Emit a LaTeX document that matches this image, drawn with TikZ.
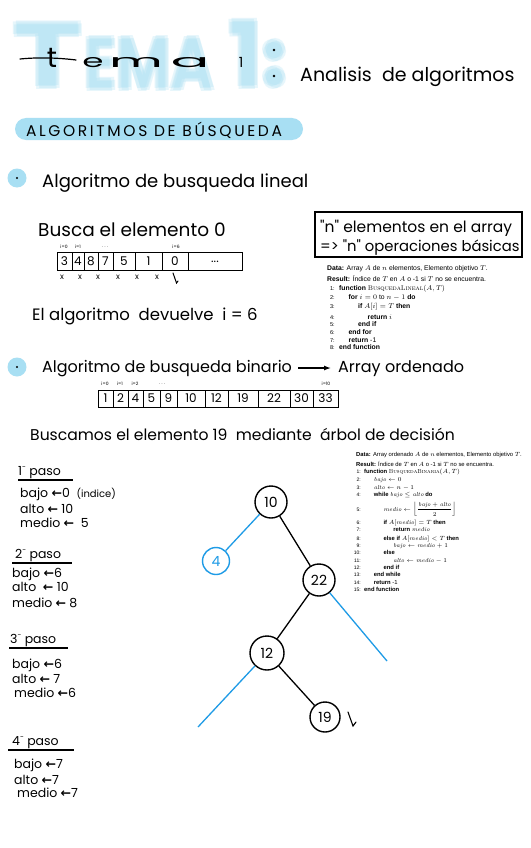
\documentclass[tikz,border=0pt]{standalone}
\usepackage{fontspec}
\usepackage{amsmath}
\usetikzlibrary{arrows.meta}
\newfontfamily\hand{Poppins}
\newfontfamily\handsp{Poppins}[LetterSpace=17]
\newfontfamily\algf{Liberation Sans}
\newfontfamily\dejavu{DejaVu Sans}
\definecolor{hl}{HTML}{A8DFF3}
\definecolor{tb}{HTML}{1E9BE6}
\newcommand{\larr}{{\dejavu\bfseries ←}}
\newcommand{\ord}{\raisebox{0.45em}{\scriptsize -}}
\begin{document}
\begin{tikzpicture}[x=1pt,y=-1pt,
  hw/.style={font=\hand\fontsize{18}{20}\selectfont, inner sep=0, anchor=base west},
  hwm/.style={font=\hand\fontsize{16}{18}\selectfont, inner sep=0, anchor=base west},
  hws/.style={font=\hand\fontsize{12.5}{15}\selectfont, inner sep=0, anchor=base west},
  cellnum/.style={font=\hand\fontsize{12}{14}\selectfont, inner sep=0},
  lbl/.style={font=\hand\fontsize{4.5}{5}\selectfont, inner sep=0},
  mk/.style={font=\hand\fontsize{8}{9}\selectfont, inner sep=0},
  alg/.style={font=\algf\fontsize{6.8}{8}\selectfont, inner sep=0, anchor=base west},
  algn/.style={font=\algf\fontsize{5.6}{7}\selectfont, inner sep=0, anchor=base east},
  algb/.style={font=\algf\fontsize{5.85}{7}\selectfont, inner sep=0, anchor=base west},
  algbn/.style={font=\algf\fontsize{5}{6}\selectfont, inner sep=0, anchor=base east},
  tnode/.style={circle, draw, line width=1.4pt, minimum size=32pt, inner sep=0, font=\hand\fontsize{14}{16}\selectfont},
  edge/.style={line width=1.3pt},
  bedge/.style={line width=1.3pt, draw=tb},
  cellline/.style={line width=1pt},
  blurT/.style={text=hl, opacity=0.27, inner sep=0, anchor=base west},
  blk/.style={font=\hand\fontsize{18}{18}\selectfont, inner sep=0, anchor=base}
]
\useasboundingbox (0,0) rectangle (530,848);
\fill[white] (0,0) rectangle (530,848);

% ---------- Title ----------
\foreach \dx/\dy in {-2/-1,2/1,-1/2,1/-2} {
  \node[blurT, font=\hand\bfseries\fontsize{92}{92}\selectfont, xscale=1.3] (tT) at (12+\dx,88+\dy) {T};
  \node[blurT, font=\hand\bfseries\fontsize{74}{74}\selectfont, xscale=0.8] (tE) at (84+\dx,90+\dy) {EMA};
  \node[blurT, font=\hand\bfseries\fontsize{92}{92}\selectfont] (t1) at (228+\dx,88+\dy) {1};
  \fill[hl, opacity=0.27] (274+\dx,50+\dy) circle (10);
  \fill[hl, opacity=0.27] (274+\dx,77+\dy) circle (10);
}
\draw[line width=1.2pt, line cap=round] (20,59) .. controls (40,57) and (60,58) .. (76,60);
\node[blk, font=\hand\fontsize{28}{28}\selectfont] (bt) at (52,68) {t};
\node[blk, xscale=1.9] (be) at (93,68) {e};
\node[blk, xscale=2.9] (bm) at (136,68) {m};
\node[blk, xscale=3.2] (ba) at (190,68) {a};
\node[blk, font=\hand\fontsize{14}{14}\selectfont] (b1) at (241,68) {1};
\fill (274,50) circle (1.3);
\fill (274,76) circle (1.3);
\node[hw, font=\hand\fontsize{19}{21}\selectfont] (sub) at (300,82) {Analisis \ de algoritmos};

% ---------- Banner ----------
\fill[hl, rounded corners=11] (15,118) rectangle (303,140);
\node[font=\handsp\fontsize{15.5}{17}\selectfont, inner sep=0] (ban) at (154,130) {ALGORITMOS DE BÚSQUEDA};

% ---------- Bullet 1 ----------
\fill[hl] (17,178) circle (9.5);
\fill (17,178) circle (1.1);
\node[hw] (b1t) at (42,187) {Algoritmo de busqueda lineal};
\node[hw, font=\hand\fontsize{18.5}{20}\selectfont] (busca) at (38,236) {Busca el elemento 0};

% array 1
\draw[cellline] (57,252) rectangle (242,270);
\foreach \x in {72,84,98,113,135,162,188} \draw[cellline] (\x,252) -- (\x,270);
\foreach \v/\x in {3/64.5,4/78,8/91,7/105.5,5/124,1/148.5,0/175,{...}/215}
  \node[cellnum] (c\x) at (\x,261.5) {\v};
\node[lbl] (l0) at (64,247) {i=0};
\node[lbl] (l1) at (78,247) {i=1};
\node[lbl] (l2) at (105,247) {. . .};
\node[lbl] (l6) at (176,247) {i=6};
\foreach \x in {62,80,98,118,137,157} \node[mk] (m\x) at (\x,277) {x};
\draw[line width=1pt, line cap=round] (173,273) -- (176.5,283) -- (178,281);
\node[hwm, font=\hand\fontsize{16.5}{18}\selectfont] (dev) at (32,320) {El algoritmo \ devuelve \ i = 6};

% box
\draw[line width=1.5pt] (315,212) rectangle (522,257);
\node[hw, font=\hand\fontsize{15.5}{18}\selectfont] (bx1) at (320,232) {"n" elementos en el array};
\node[hw, font=\hand\fontsize{14.8}{18}\selectfont] (bx2) at (320,251) {=> "n" operaciones básicas};

% algorithm 1
\node[alg] (a1d) at (327,270) {\textbf{Data:} Array $A$ de $n$ elementos, Elemento objetivo $T$.};
\node[alg] (a1r) at (327,281) {\textbf{Result:} Índice de $T$ en $A$ o -1 si $T$ no se encuentra.};
\foreach \n/\y/\ind/\t in {
  1/290/0/{\textbf{function} {\rmfamily\textsc{BusquedaLineal}}$(A,T)$},
  2/299/1/{\textbf{for} $i=0$ to $n-1$ \textbf{do}},
  3/308/2/{\textbf{if} $A[i]=T$ \textbf{then}},
  4/319/3/{\textbf{return} $i$},
  5/326/2/{\textbf{end if}},
  6/334/1/{\textbf{end for}},
  7/342/1/{\textbf{return} -1},
  8/349/0/{\textbf{end function}}} {
  \node[algn] (an\n) at (335,\y) {\n:};
  \node[alg] (at\n) at (339+9.5*\ind,\y) {\t};
}

% ---------- Bullet 2 ----------
\fill[hl] (17,367) circle (9.5);
\fill (17,367) circle (1.1);
\node[hw, font=\hand\fontsize{16}{20}\selectfont] (b2t) at (42,372) {Algoritmo de busqueda binario};
\coordinate (ar1) at (298,368);
\coordinate (ar2) at (331,368);
\draw[line width=1.3pt, -{Latex[length=7pt,width=5pt]}] (ar1) -- (ar2);
\node[hw, font=\hand\fontsize{16}{20}\selectfont] (ord) at (338,372) {Array ordenado};

% array 2
\draw[cellline] (98,390) rectangle (338,407);
\foreach \x in {113,128,143,160,177,205,228,258,290,313} \draw[cellline] (\x,390) -- (\x,407);
\foreach \v/\x in {1/105.5,2/120.5,4/135.5,5/151.5,9/168.5,10/191,12/216.5,19/243,22/274,30/301.5,33/325.5}
  \node[cellnum] (d\v) at (\x,398.5) {\v};
\node[lbl] (k0) at (105,384) {i=0};
\node[lbl] (k1) at (120,384) {i=1};
\node[lbl] (k2) at (135,384) {i=2};
\node[lbl] (k3) at (162,384) {. . .};
\node[lbl] (k10) at (326,384) {i=10};

\node[hwm, font=\hand\fontsize{15.6}{18}\selectfont] (busc2) at (30,440) {Buscamos el elemento 19 \ mediante \ árbol de decisión};

% ---------- Steps ----------
\node[hws] (p1) at (18,475) {1\ord{} paso};
\draw[line width=1.2pt] (18,480) -- (73,480);
\node[hws] (p1a) at (20,497) {bajo \larr 0 \ {\fontsize{10}{12}\selectfont (indice)}};
\node[hws] (p1b) at (20,513) {alto \larr\ 10};
\node[hws] (p1c) at (20,527) {medio \larr\ \ 5};

\node[hws] (p2) at (15,558) {2\ord{} paso};
\draw[line width=1.2pt] (12,563) -- (72,563);
\node[hws] (p2a) at (12,577) {bajo \larr 6};
\node[hws] (p2b) at (12,591) {alto \ \larr\ 10};
\node[hws] (p2c) at (12,607) {medio \larr\ 8};

\node[hws] (p3) at (10,643) {3\ord{} paso};
\draw[line width=1.2pt] (9,648) -- (68,648);
\node[hws] (p3a) at (12,668) {bajo \larr 6};
\node[hws] (p3b) at (12,683) {alto \larr\ 7};
\node[hws] (p3c) at (14,697) {medio \larr 6};

\node[hws] (p4) at (12,745) {4\ord{} paso};
\draw[line width=1.2pt] (8,750) -- (74,750);
\node[hws] (p4a) at (14,768) {bajo \larr 7};
\node[hws] (p4b) at (14,784) {alto \larr 7};
\node[hws] (p4c) at (17,797) {medio \larr 7};

% ---------- Tree ----------
\node[tnode] (n10) at (271,502) {10};
\node[tnode, draw=tb, text=tb, minimum size=27pt] (n4) at (216,561) {4};
\node[tnode] (n22) at (319,580) {22};
\node[tnode, minimum size=34pt] (n12) at (267,653) {12};
\node[tnode, minimum size=30pt] (n19) at (325,717) {19};
\draw[edge] (n10) -- (n22);
\draw[edge] (n22) -- (n12);
\draw[edge] (n12) -- (n19);
\draw[bedge] (n10) -- (n4);
\coordinate (e22) at (387,661);
\coordinate (e12) at (198,727);
\draw[bedge] (n22) -- (e22);
\draw[bedge] (n12) -- (e12);
\draw[line width=1.1pt, line cap=round] (348,712) -- (353,726) -- (356,722);

% algorithm 2
\node[algb] (b2d) at (356,456) {\textbf{Data:} Array ordenado $A$ de $n$ elementos, Elemento objetivo $T$.};
\node[algb] (b2r) at (356,466) {\textbf{Result:} Índice de $T$ en $A$ o -1 si $T$ no se encuentra.};
\foreach \n/\y/\ind/\t in {
  1/473/0/{\textbf{function} {\rmfamily\textsc{BusquedaBinaria}}$(A,T)$},
  2/481/1/{$\mathit{bajo}\leftarrow 0$},
  3/489/1/{$\mathit{alto}\leftarrow n-1$},
  4/496/1/{\textbf{while} $\mathit{bajo}\le\mathit{alto}$ \textbf{do}},
  5/511/2/{$\mathit{medio}\leftarrow\left\lfloor\dfrac{\mathit{bajo}+\mathit{alto}}{2}\right\rfloor$},
  6/524/2/{\textbf{if} $A[\mathit{medio}]=T$ \textbf{then}},
  7/531/3/{\textbf{return} $\mathit{medio}$},
  8/540/2/{\textbf{else if} $A[\mathit{medio}]<T$ \textbf{then}},
  9/547/3/{$\mathit{bajo}\leftarrow\mathit{medio}+1$},
  10/554/2/{\textbf{else}},
  11/562/3/{$\mathit{alto}\leftarrow\mathit{medio}-1$},
  12/569/2/{\textbf{end if}},
  13/576/1/{\textbf{end while}},
  14/584/1/{\textbf{return} -1},
  15/591/0/{\textbf{end function}}} {
  \node[algbn] (bn\n) at (361,\y) {\n:};
  \node[algb] (bt\n) at (364+9.7*\ind,\y) {\t};
}
\end{tikzpicture}
\end{document}
